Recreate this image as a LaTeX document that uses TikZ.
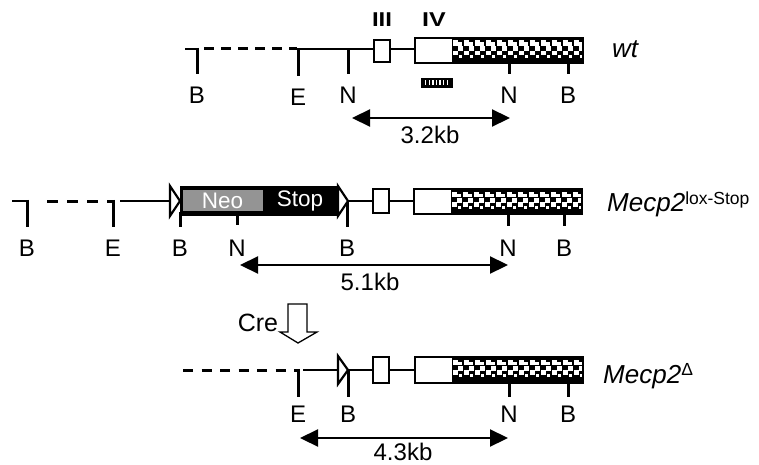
\documentclass[tikz,border=0pt]{standalone}
\usepackage{fontspec}
\setmainfont{Liberation Sans}
\usetikzlibrary{arrows.meta}

% coding-region fill: black ground with staggered white squares
% #1 = left x, #2 = right x, #3 = top y, #4 = bottom y
\newcommand\codingfill[4]{%
  \begin{scope}
    \clip (#1,#3) rectangle (#2,#4);
    \fill[black] (#1,#3) rectangle (#2,#4);
    \foreach \k in {0,...,12} {
      \pgfmathsetmacro\xo{#1+11*\k}
      \fill[white] (\xo+0.5,#3+2.5) rectangle ++(5,5.5);
      \fill[white] (\xo+6,#3+4.5) rectangle ++(4,3.5);
      \fill[white] (\xo+5.5,#3+8.5) rectangle ++(5,5);
      \fill[white] (\xo+1,#3+13) rectangle ++(4.5,4.5);
      \fill[white] (\xo+7,#3+17) rectangle ++(3,3);
    }
  \end{scope}}

\begin{document}
\begin{tikzpicture}[x=1pt,y=-1pt,
  dna/.style={line width=2.2pt},
  gapline/.style={line width=3pt, dash pattern=on 10pt off 7pt},
  site/.style={line width=3pt},
  exonbox/.style={draw, line width=2.8pt},
  lox/.style={draw, line width=2.2pt, fill=white, line join=miter},
  lbl/.style={inner sep=0pt, font=\fontsize{24}{24}\selectfont},
  kb/.style={inner sep=0pt, font=\fontsize{24}{24}\selectfont},
  exonname/.style={inner sep=0pt, font=\fontsize{20}{20}\bfseries\selectfont},
  allele/.style={inner sep=0pt, anchor=base west, font=\fontsize{26}{26}\itshape\selectfont},
  span/.style={line width=2.2pt, {Triangle[length=18pt,width=17pt]}-{Triangle[length=18pt,width=17pt]}},
]
\useasboundingbox (0,0) rectangle (759,465);

% ---------------- wild-type allele ----------------
\draw[dna] (185,49) -- (198.5,49);
\draw[gapline] (204,49) -- (297,49);
\draw[dna] (297,49) -- (374,49);
\draw[dna] (390,49) -- (415,49);
\draw[site] (197,47.9) -- (197,74);
\draw[site] (298,47.9) -- (298,76);
\draw[site] (348,49) -- (348,74);
\draw[site] (509,60) -- (509,74);
\draw[site] (568,60) -- (568,74);
\filldraw[exonbox, fill=white] (374,40) rectangle (390,62);
\fill[white] (415,38) rectangle (452,63);
\codingfill{452}{583}{38}{63}
\draw[exonbox] (415,38) rectangle (583,63);
\node[exonname] (ex3) at (382,20) {\scalebox{1.2}[1]{III}};
\node[exonname] (ex4) at (434,20) {\scalebox{1.25}[1]{IV}};
% probe
\fill[black] (421,78) rectangle (453,88);
\foreach \i in {0,...,6} \fill[white] ({425+3.6*\i},80.5) rectangle ++(1.3,5);
\node[lbl] (w-b1) at (197,95) {B};
\node[lbl] (w-e)  at (298,97) {E};
\node[lbl] (w-n1) at (348,95) {N};
\node[lbl] (w-n2) at (509,95) {N};
\node[lbl] (w-b2) at (568,95) {B};
\coordinate (w-l) at (352,118);
\coordinate (w-r) at (510,118);
\draw[span] (w-l) -- (w-r);
\node[kb] (w-kb) at (430,135) {3.2kb};
\node[allele] (wt) at (612,58) {wt};

% ---------------- lox-Stop allele ----------------
\draw[dna] (12,201) -- (28.5,201);
\draw[line width=3pt, dash pattern=on 11pt off 9pt] (47,201) -- (114.5,201);
\draw[dna] (120,201) -- (172,201);
\draw[dna] (346,201) -- (373,201);
\draw[dna] (389,201) -- (414,201);
\draw[site] (27,199.9) -- (27,227);
\draw[site] (113,199.9) -- (113,227);
\draw[site] (180,212) -- (180,227);
\draw[site] (237,212) -- (237,225);
\draw[site] (347,201) -- (347,227);
\draw[site] (508,211) -- (508,226);
\draw[site] (564,211) -- (564,226);
% Neo-Stop cassette between loxP sites
\fill[black] (180,186) rectangle (339,216);
\fill[black!42] (183,190) rectangle (263,211);
\node[inner sep=0pt, text=white, font=\fontsize{22.5}{22.5}\selectfont] (neo) at (222.5,201) {Neo};
\node[inner sep=0pt, text=white, font=\fontsize{22.5}{22.5}\selectfont] (stop) at (300,201) {Stop};
\draw[lox] (170,186) -- (180,201) -- (170,216) -- cycle;
\draw[lox] (338,186) -- (348,201) -- (338,216) -- cycle;
\filldraw[exonbox, fill=white] (373,189) rectangle (389,213);
\fill[white] (414,189) rectangle (451,214);
\codingfill{451}{582}{189}{214}
\draw[exonbox] (414,189) rectangle (582,214);
\node[lbl] (s-b1) at (27,248) {B};
\node[lbl] (s-e)  at (113,248) {E};
\node[lbl] (s-b2) at (180,248) {B};
\node[lbl] (s-n1) at (237,248) {N};
\node[lbl] (s-b3) at (347,248) {B};
\node[lbl] (s-n2) at (508,248) {N};
\node[lbl] (s-b4) at (564,248) {B};
\coordinate (s-l) at (240,265);
\coordinate (s-r) at (508,265);
\draw[span] (s-l) -- (s-r);
\node[kb] (s-kb) at (370,282) {5.1kb};
\node[allele] (lxs) at (607,211) {Mecp2\raisebox{7pt}{\upshape\fontsize{17.5}{17.5}\selectfont lox-Stop}};

% ---------------- Cre excision ----------------
\node[inner sep=0pt, font=\fontsize{25}{25}\selectfont] (cre) at (258,323) {Cre};
\draw[line width=1.3pt, fill=white, line join=miter]
  (288,304) -- (307,304) -- (307,332) -- (317,332) -- (298,343) -- (280,332) -- (288,332) -- cycle;

% ---------------- deleted allele ----------------
\draw[line width=3pt, dash pattern=on 10pt off 8.5pt] (183,370) -- (299,370);
\draw[dna] (303,370) -- (340,370);
\draw[dna] (346,370) -- (373,370);
\draw[dna] (389,370) -- (415,370);
\draw[site] (298,368.9) -- (298,397);
\draw[site] (348,370) -- (348,397);
\draw[site] (509,380) -- (509,397);
\draw[site] (568,380) -- (568,397);
\draw[lox] (338,356) -- (348,370) -- (338,384) -- cycle;
\filldraw[exonbox, fill=white] (373,357) rectangle (389,383);
\fill[white] (415,357) rectangle (452,383);
\codingfill{452}{583}{357}{383}
\draw[exonbox] (415,357) rectangle (583,383);
\node[lbl] (d-e)  at (298,414) {E};
\node[lbl] (d-b1) at (348,414) {B};
\node[lbl] (d-n)  at (509,414) {N};
\node[lbl] (d-b2) at (568,414) {B};
\coordinate (d-l) at (300,438);
\coordinate (d-r) at (508,438);
\draw[span] (d-l) -- (d-r);
\node[kb] (d-kb) at (403,452) {4.3kb};
\node[allele] (del) at (603,383) {Mecp2\raisebox{8pt}{\upshape\fontsize{17.5}{17.5}\selectfont Δ}};
\end{tikzpicture}
\end{document}
